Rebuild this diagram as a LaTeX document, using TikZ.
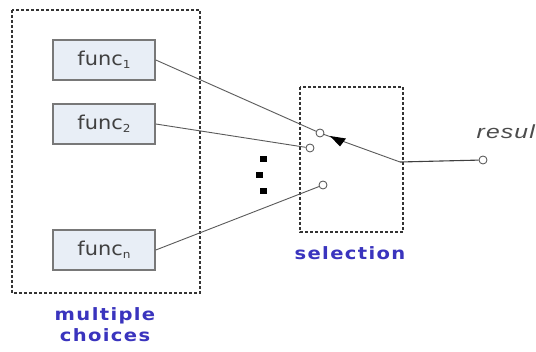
\documentclass[tikz,border=0pt]{standalone}
\usepackage{fontspec}
\setmainfont{DejaVu Sans}
\newfontfamily\lblfont[FakeStretch=1.15,LetterSpace=8]{DejaVu Sans}
\newfontfamily\funcfont[FakeStretch=1.1]{DejaVu Sans}
\newfontfamily\resfont[FakeStretch=1.3,LetterSpace=6]{Liberation Sans}
\newcommand{\fsub}[1]{\raisebox{-3.5pt}{\fontsize{11}{11}\selectfont #1}}
\definecolor{boxfill}{RGB}{232,238,246}
\definecolor{boxline}{RGB}{120,120,120}
\definecolor{lblblue}{RGB}{58,52,190}
\definecolor{wire}{RGB}{90,90,90}
\begin{document}
\begin{tikzpicture}[x=1pt,y=-1pt,
  funcbox/.style={draw=boxline,line width=1.6pt,fill=boxfill,minimum width=102pt,minimum height=40pt,inner sep=0pt,font=\funcfont\fontsize{19}{19}\selectfont,text=black!75},
  groupbox/.style={draw=black!80,dashed,dash pattern=on 3pt off 2pt,line width=1.1pt},
  lbl/.style={font=\lblfont\bfseries\fontsize{17}{21}\selectfont,text=lblblue,align=center},
  pin/.style={circle,draw=black!70,fill=white,line width=0.8pt,inner sep=0pt,minimum size=8pt},
  wireline/.style={draw=wire,line width=0.9pt},
  dotsq/.style={fill=black,inner sep=0pt,minimum width=7pt,minimum height=6pt}
]
\useasboundingbox (0,0) rectangle (536,352);
\fill[white] (0,0) rectangle (536,352);
% group boxes
\draw[groupbox] (12,10) rectangle (200,293);
\draw[groupbox] (300,87) rectangle (403,232);
% function boxes
\node[funcbox] (f1) at (104,60) {func\fsub{1}};
\node[funcbox] (f2) at (104,124) {func\fsub{2}};
\node[funcbox] (fn) at (104,250) {func\fsub{n}};
% labels
\node[lbl] (mc) at (105,325) {multiple\\choices};
\node[lbl] (sel) at (350,253) {selection};
% pins
\node[pin] (c1) at (320,133) {};
\node[pin] (c2) at (310,148) {};
\node[pin] (c3) at (323,185) {};
\node[pin] (res) at (483,160) {};
\coordinate (J) at (400,162);
% wires
\draw[wireline] (f1.east) -- (c1);
\draw[wireline] (f2.east) -- (c2);
\draw[wireline] (fn.east) -- (c3);
\draw[wireline] (c1) -- (J);
\draw[draw=black!75,line width=1.1pt] (J) -- (res);
% switch marker
\fill[black] (330,136) -- (346,138.5) -- (340,146.5) -- cycle;
% dots
\node[dotsq] (d1) at (263,159) {};
\node[dotsq] (d2) at (259,175) {};
\node[dotsq] (d3) at (263,191) {};
% result text (cut at the edge in the reference)
\node[anchor=base east,inner sep=0pt,font=\resfont\itshape\fontsize{19}{19}\selectfont,text=black!70] (rt) at (535,139) {resul};
\end{tikzpicture}
\end{document}
